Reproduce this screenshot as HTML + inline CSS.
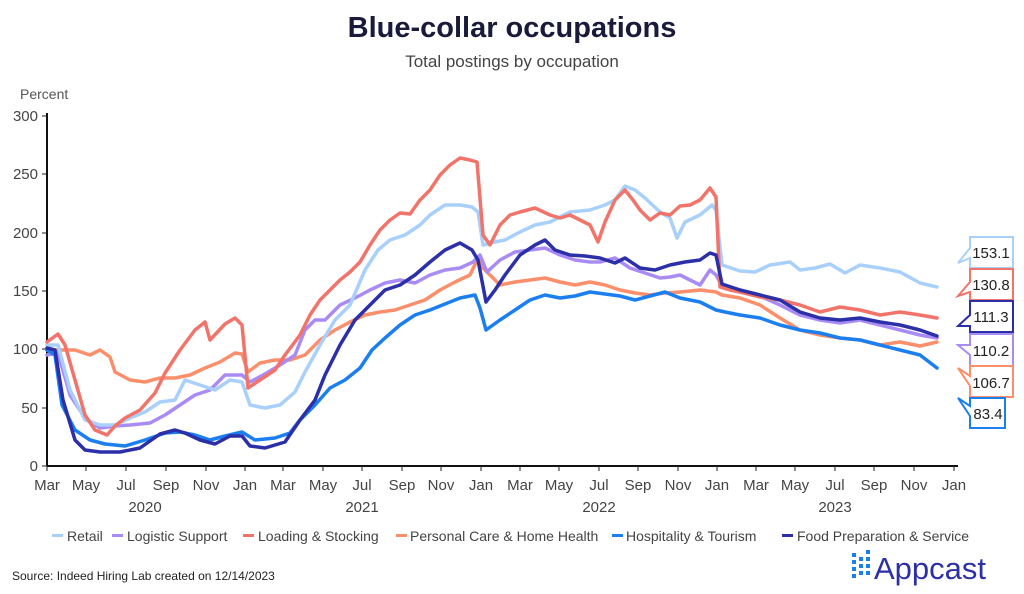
<!DOCTYPE html>
<html><head><meta charset="utf-8"><style>
body{margin:0;background:#fff;}
svg{display:block;font-family:"Liberation Sans",sans-serif;}
</style></head><body>
<svg width="1024" height="594" viewBox="0 0 1024 594" xmlns="http://www.w3.org/2000/svg">
<rect width="1024" height="594" fill="#fff"/>
<text x="512" y="37" text-anchor="middle" font-size="29" font-weight="bold" fill="#1a1a3a">Blue-collar occupations</text>
<text x="512" y="67" text-anchor="middle" font-size="17" fill="#444">Total postings by occupation</text>
<text x="20" y="99" font-size="14" fill="#555">Percent</text>
<g font-size="15" fill="#444" text-anchor="end">
<text x="38" y="121">300</text><text x="38" y="179">250</text><text x="38" y="238">200</text>
<text x="38" y="296">150</text><text x="38" y="354">100</text><text x="38" y="413">50</text><text x="38" y="471">0</text>
</g>
<g stroke="#222" stroke-width="1">
<line x1="42" y1="116" x2="47" y2="116"/><line x1="42" y1="174" x2="47" y2="174"/><line x1="42" y1="233" x2="47" y2="233"/>
<line x1="42" y1="291" x2="47" y2="291"/><line x1="42" y1="349" x2="47" y2="349"/><line x1="42" y1="408" x2="47" y2="408"/><line x1="42" y1="466" x2="47" y2="466"/>
</g>
<line x1="47" y1="113" x2="47" y2="466" stroke="#111" stroke-width="2"/>
<line x1="47" y1="466" x2="958" y2="466" stroke="#111" stroke-width="2"/>
<g stroke="#222" stroke-width="1">
<line x1="47" y1="466" x2="47" y2="471"/><line x1="86" y1="466" x2="86" y2="471"/><line x1="126" y1="466" x2="126" y2="471"/><line x1="166" y1="466" x2="166" y2="471"/><line x1="206" y1="466" x2="206" y2="471"/><line x1="245" y1="466" x2="245" y2="471"/><line x1="283" y1="466" x2="283" y2="471"/><line x1="323" y1="466" x2="323" y2="471"/><line x1="362" y1="466" x2="362" y2="471"/><line x1="402" y1="466" x2="402" y2="471"/><line x1="441" y1="466" x2="441" y2="471"/><line x1="481" y1="466" x2="481" y2="471"/><line x1="520" y1="466" x2="520" y2="471"/><line x1="559" y1="466" x2="559" y2="471"/><line x1="599" y1="466" x2="599" y2="471"/><line x1="638" y1="466" x2="638" y2="471"/><line x1="678" y1="466" x2="678" y2="471"/><line x1="717" y1="466" x2="717" y2="471"/><line x1="756" y1="466" x2="756" y2="471"/><line x1="795" y1="466" x2="795" y2="471"/><line x1="835" y1="466" x2="835" y2="471"/><line x1="874" y1="466" x2="874" y2="471"/><line x1="914" y1="466" x2="914" y2="471"/><line x1="954" y1="466" x2="954" y2="471"/>
</g>
<g font-size="15" fill="#444" text-anchor="middle">
<text x="47" y="490">Mar</text><text x="86" y="490">May</text><text x="126" y="490">Jul</text><text x="166" y="490">Sep</text><text x="206" y="490">Nov</text><text x="245" y="490">Jan</text>
<text x="283" y="490">Mar</text><text x="323" y="490">May</text><text x="362" y="490">Jul</text><text x="402" y="490">Sep</text><text x="441" y="490">Nov</text><text x="481" y="490">Jan</text>
<text x="520" y="490">Mar</text><text x="559" y="490">May</text><text x="599" y="490">Jul</text><text x="638" y="490">Sep</text><text x="678" y="490">Nov</text><text x="717" y="490">Jan</text>
<text x="756" y="490">Mar</text><text x="795" y="490">May</text><text x="835" y="490">Jul</text><text x="874" y="490">Sep</text><text x="914" y="490">Nov</text><text x="954" y="490">Jan</text>
<text x="145" y="512">2020</text><text x="362" y="512">2021</text><text x="599" y="512">2022</text><text x="835" y="512">2023</text>
</g>
<g fill="none" stroke-width="3.5" stroke-linejoin="round" stroke-linecap="round">
<polyline stroke="#fb8f6c" points="47,350 60,350 75,350 90,355 100,350 110,357 115,372 130,380 145,382 160,378 175,378 190,375 205,368 220,362 235,353 242,354 248,372 260,363 275,360 290,360 305,355 320,340 335,330 350,322 365,315 380,312 395,310 410,305 425,300 440,290 455,282 470,275 478,258 483,268 500,285 515,282 530,280 545,278 560,282 575,285 590,282 605,285 620,290 635,293 650,295 665,293 680,292 700,290 716,292 722,295 740,298 760,305 780,318 800,330 820,335 840,338 860,340 880,345 900,342 920,346 937,342"/>
<polyline stroke="#a98bf5" points="47,355 58,353 70,395 85,418 100,428 115,426 130,425 150,423 165,415 180,405 195,395 210,390 225,375 242,375 250,382 265,374 280,365 295,355 305,330 315,320 325,320 340,305 355,298 370,290 385,283 400,280 415,283 430,275 445,270 460,268 473,262 480,255 487,272 500,260 515,252 530,250 545,248 560,255 575,260 590,262 600,262 615,258 630,268 645,273 660,278 670,277 680,275 690,280 700,285 710,270 716,275 722,286 740,290 760,296 780,305 800,315 820,320 840,323 860,320 880,325 900,330 920,335 937,338"/>
<polyline stroke="#a9d0fb" points="47,345 58,345 70,390 85,420 100,425 115,425 130,418 145,412 160,402 175,400 185,380 200,385 215,390 230,380 242,382 250,405 265,408 280,405 295,392 305,372 320,345 335,320 350,305 365,270 378,250 390,240 405,235 420,225 430,215 445,205 460,205 472,207 478,212 483,245 495,242 505,240 520,232 535,225 550,222 570,212 590,210 605,205 615,200 625,186 635,190 645,198 660,212 670,218 677,238 685,222 700,215 712,205 716,210 722,265 740,271 755,272 770,265 790,262 800,270 815,268 830,264 845,273 860,265 880,268 900,272 920,283 937,287"/>
<polyline stroke="#f2736a" points="47,342 58,334 65,345 75,380 85,415 95,430 107,435 115,426 125,418 140,410 155,393 165,373 180,350 195,330 205,322 210,340 225,324 235,318 242,325 248,388 260,380 275,370 285,355 300,335 310,315 320,300 330,290 340,280 350,272 360,262 370,245 380,230 390,220 400,213 410,214 420,200 430,190 440,175 450,165 460,158 470,160 477,162 483,235 490,245 500,225 510,215 520,212 535,208 550,215 560,218 570,215 580,220 590,225 598,242 605,222 615,200 625,190 633,200 640,210 650,220 660,213 670,215 680,206 690,205 700,200 710,188 716,197 720,287 730,290 740,292 760,297 780,300 800,305 820,312 840,307 860,310 880,315 900,312 920,315 937,318"/>
<polyline stroke="#1b7ff0" points="47,350 55,355 62,405 75,430 90,440 105,444 125,446 145,440 165,433 180,432 195,435 210,440 225,436 242,432 255,440 275,438 290,433 300,420 315,405 330,388 345,380 360,368 372,350 385,338 400,325 415,315 430,310 445,304 460,298 475,295 480,308 486,330 500,320 515,310 530,300 545,295 560,298 575,296 590,292 605,294 620,296 635,300 650,296 665,292 680,298 700,302 716,310 725,312 740,315 760,318 780,325 800,330 820,333 840,338 860,340 880,345 900,350 920,355 937,368"/>
<polyline stroke="#2b2fa8" points="47,348 55,350 63,400 75,440 85,450 100,452 120,452 140,448 160,434 175,430 185,433 200,440 215,444 230,436 242,436 250,446 265,448 285,442 300,420 315,400 325,375 340,345 355,320 370,305 385,290 400,285 415,275 430,262 445,250 460,243 472,250 478,260 486,302 495,290 505,275 520,255 535,245 545,240 555,250 570,255 585,256 600,258 615,263 625,258 640,268 655,270 670,265 685,262 700,260 710,253 716,255 722,284 740,290 760,295 780,300 800,312 820,318 840,320 860,318 880,322 900,325 920,330 937,336"/>
</g>
<g font-size="15" fill="#222" stroke-width="2" stroke-linejoin="miter">
<path d="M970,237 H1013 V268 H970 V258 L958,263 L970,248 Z" fill="#fff" stroke="#a9d0fb"/><text x="991" y="258" text-anchor="middle">153.1</text>
<path d="M970,269 H1013 V300 H970 V292 L958,296 L970,282 Z" fill="#fff" stroke="#f2736a"/><text x="991" y="290" text-anchor="middle">130.8</text>
<path d="M970,301 H1013 V332 H970 V326 L958,326 L970,315 Z" fill="#fff" stroke="#2b2fa8"/><text x="991" y="322" text-anchor="middle">111.3</text>
<path d="M970,334 H1013 V366 H970 V355 L958,345 L970,345 Z" fill="#fff" stroke="#a98bf5"/><text x="991" y="356" text-anchor="middle">110.2</text>
<path d="M970,366 H1013 V397 H970 V386 L958,368 L970,376 Z" fill="#fff" stroke="#fb8f6c"/><text x="991" y="388" text-anchor="middle">106.7</text>
<path d="M970,398 H1005 V428 H970 V416 L958,398 L970,406 Z" fill="#fff" stroke="#1b7ff0"/><text x="988" y="419" text-anchor="middle">83.4</text>
</g>
<g font-size="14" fill="#444">
<rect x="52" y="534" width="11" height="3" fill="#a9d0fb"/><text x="67" y="541">Retail</text>
<rect x="112" y="534" width="11" height="3" fill="#a98bf5"/><text x="127" y="541">Logistic Support</text>
<rect x="243" y="534" width="11" height="3" fill="#f2736a"/><text x="258" y="541">Loading &amp; Stocking</text>
<rect x="396" y="534" width="11" height="3" fill="#fb8f6c"/><text x="410" y="541">Personal Care &amp; Home Health</text>
<rect x="612" y="534" width="11" height="3" fill="#1b7ff0"/><text x="626" y="541">Hospitality &amp; Tourism</text>
<rect x="782" y="534" width="11" height="3" fill="#2b2fa8"/><text x="797" y="541">Food Preparation &amp; Service</text>
</g>
<text x="12" y="580" font-size="12" fill="#222">Source: Indeed Hiring Lab created on 12/14/2023</text>
<g fill="#1b7ff0">
<rect x="852" y="553" width="4" height="4"/><rect x="852" y="560" width="4" height="4"/><rect x="852" y="567" width="4" height="4"/><rect x="852" y="574" width="4" height="4"/>
<rect x="859" y="557" width="4" height="4"/><rect x="859" y="564" width="4" height="4"/><rect x="859" y="571" width="4" height="4"/>
<rect x="866" y="550" width="4" height="4"/><rect x="866" y="557" width="4" height="4"/><rect x="866" y="564" width="4" height="4"/><rect x="866" y="571" width="4" height="4"/>
</g>
<text x="874" y="579" font-size="31" fill="#2b2fa8">Appcast</text>
</svg>
</body></html>
